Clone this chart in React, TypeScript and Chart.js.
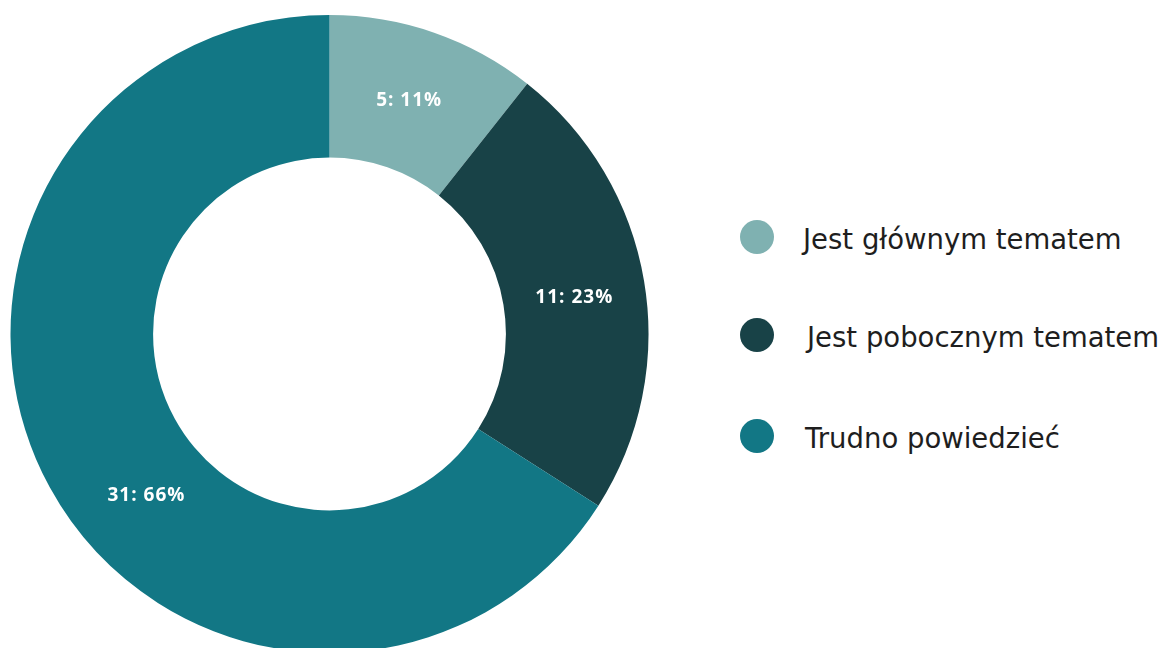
import React, { useEffect, useRef } from "react";
import { Chart, registerables } from "chart.js";

Chart.register(...registerables);

const categories = ["Jest głównym tematem", "Jest pobocznym tematem", "Trudno powiedzieć"];
const counts = [5, 11, 31];
const percents = [11, 23, 66];
const colors = ["#7fb1b1", "#184247", "#127785"];

// styling only
const labelFractions = [0.49, 0.51, 0.447];
const labelRadiusShift = [0, 0, -4];
const legendRowsY = [237, 335, 436];
const legendTextX = [803, 807, 805];

const sliceLabels = {
  id: "sliceLabels",
  afterDatasetsDraw(chart: any) {
    const meta = chart.getDatasetMeta(0);
    const ctx = chart.ctx;
    ctx.save();
    ctx.font = "bold 19px 'Open Sans'";
    try {
      (ctx as any).letterSpacing = "1px";
    } catch (e) {}
    ctx.fillStyle = "#ffffff";
    ctx.textAlign = "center";
    ctx.textBaseline = "middle";
    meta.data.forEach((arc: any, i: number) => {
      const p = arc.getProps(["x", "y", "startAngle", "endAngle", "innerRadius", "outerRadius"], true);
      const a = p.startAngle + (p.endAngle - p.startAngle) * labelFractions[i];
      const r = (p.innerRadius + p.outerRadius) / 2 + labelRadiusShift[i];
      ctx.fillText(`${counts[i]}: ${percents[i]}%`, p.x + Math.cos(a) * r, p.y + Math.sin(a) * r + 1);
    });
    ctx.restore();
  },
};

export default function App() {
  const ref = useRef<HTMLCanvasElement | null>(null);
  useEffect(() => {
    if (!ref.current) return;
    const chart = new Chart(ref.current, {
      type: "doughnut",
      data: {
        labels: categories,
        datasets: [
          {
            data: counts,
            backgroundColor: colors,
            borderWidth: 0,
          },
        ],
      },
      options: {
        responsive: false,
        animation: false,
        cutout: "55.3%",
        layout: { padding: { left: 10, top: 15, right: 0, bottom: 17 } },
        plugins: {
          legend: { display: false },
          tooltip: { enabled: false },
        },
      },
      plugins: [sliceLabels],
    });
    return () => chart.destroy();
  }, []);

  return (
    <div
      style={{
        position: "fixed",
        left: 0,
        top: 0,
        width: 1161,
        height: 648,
        overflow: "hidden",
        background: "#ffffff",
      }}
    >
      <canvas
        ref={ref}
        width={649}
        height={670}
        style={{ position: "absolute", left: 0, top: 0, width: 649, height: 670 }}
      />
      {categories.map((c, i) => (
        <React.Fragment key={c}>
          <div
            style={{
              position: "absolute",
              left: 740,
              top: legendRowsY[i] - 17,
              width: 34,
              height: 34,
              borderRadius: "50%",
              background: colors[i],
            }}
          />
          <div
            style={{
              position: "absolute",
              left: legendTextX[i],
              top: legendRowsY[i] - 18,
              height: 40,
              lineHeight: "40px",
              fontFamily: "'DejaVu Sans'",
              fontWeight: 400,
              fontSize: 27.5,
              color: "#1e1e1e",
              whiteSpace: "nowrap",
            }}
          >
            {c}
          </div>
        </React.Fragment>
      ))}
    </div>
  );
}
